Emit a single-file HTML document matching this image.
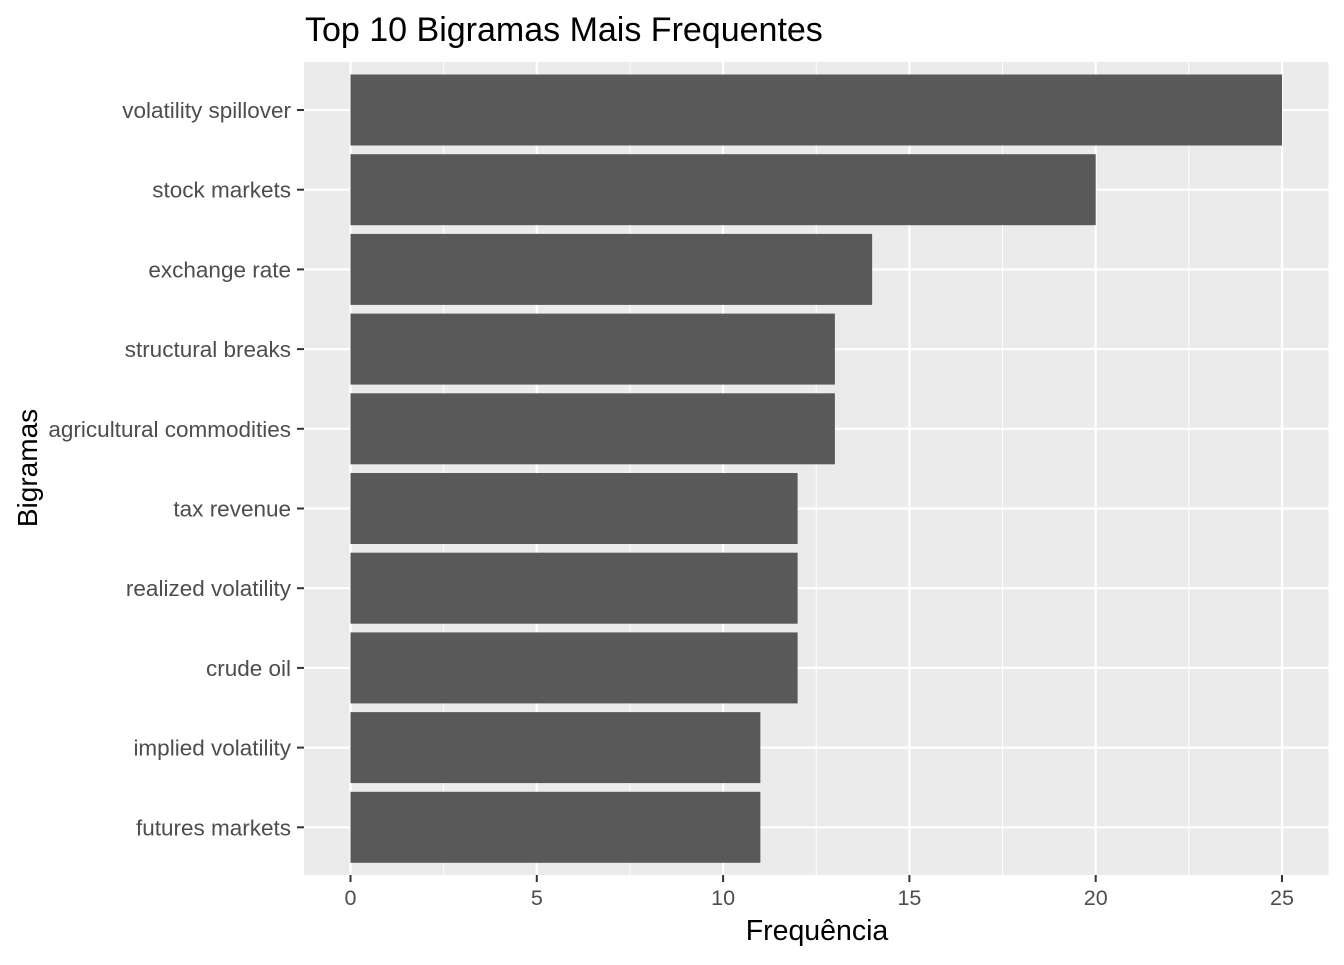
<!DOCTYPE html>
<html><head><meta charset="utf-8"><style>
body{margin:0;background:#fff;}
text{font-family:"Liberation Sans",Arial,sans-serif;}
</style></head><body>
<svg id="chart" width="1344" height="960" xmlns="http://www.w3.org/2000/svg">
<rect width="1344" height="960" fill="#fff"/>
<text x="305" y="41" font-size="34" fill="#000">Top 10 Bigramas Mais Frequentes</text>
<rect x="304" y="62" width="1024.5" height="813" fill="#ebebeb"/>
<g id="grid"></g><g id="bars"></g><g id="axes"></g>
<text x="817" y="940" font-size="28.5" text-anchor="middle" fill="#000">Frequência</text>
<text transform="translate(37,468) rotate(-90)" font-size="28" text-anchor="middle" fill="#000">Bigramas</text>
</svg>
<script>
const categories=["volatility spillover","stock markets","exchange rate","structural breaks","agricultural commodities","tax revenue","realized volatility","crude oil","implied volatility","futures markets"];
const values=[25,20,14,13,13,12,12,12,11,11];
const xTicks=[0,5,10,15,20,25];
const ns="http://www.w3.org/2000/svg";
const x=v=>350.5+v*(1282-350.5)/25;
const step=79.7, y=i=>110+i*step, bh=71;
function mk(t,a,p){const e=document.createElementNS(ns,t);for(const k in a)e.setAttribute(k,a[k]);p.appendChild(e);return e;}
const g=document.getElementById('grid'),b=document.getElementById('bars'),ax=document.getElementById('axes');
for(let i=0;i<xTicks.length-1;i++){const m=(xTicks[i]+xTicks[i+1])/2;
 const l=mk('line',{x1:x(m),x2:x(m),y1:62,y2:875,stroke:'#fff','stroke-width':1},g);
 
 }
xTicks.forEach(t=>{const l=mk('line',{x1:x(t),x2:x(t),y1:62,y2:875,stroke:'#fff','stroke-width':2.2},g);
 
 
 const tk=mk('line',{x1:x(t),x2:x(t),y1:875,y2:882,stroke:'#333','stroke-width':2},ax);
 
 
 const tx=mk('text',{x:x(t),y:905,'font-size':21.5,'text-anchor':'middle',fill:'#4d4d4d'},ax);tx.textContent=t;
 
 });
categories.forEach((c,i)=>{const l=mk('line',{x1:304,x2:1328.5,y1:y(i),y2:y(i),stroke:'#fff','stroke-width':2.2},g);
 
 
 const r=mk('rect',{x:x(0),y:y(i)-bh/2,width:x(values[i])-x(0),height:bh,fill:'#595959'},b);
 
 
 const tk=mk('line',{x1:297,x2:304,y1:y(i),y2:y(i),stroke:'#333','stroke-width':2},ax);
 
 
 const tx=mk('text',{x:291,y:y(i)+8,'font-size':22.5,'text-anchor':'end',fill:'#4d4d4d'},ax);tx.textContent=c;
 
 });
</script>
</body></html>
